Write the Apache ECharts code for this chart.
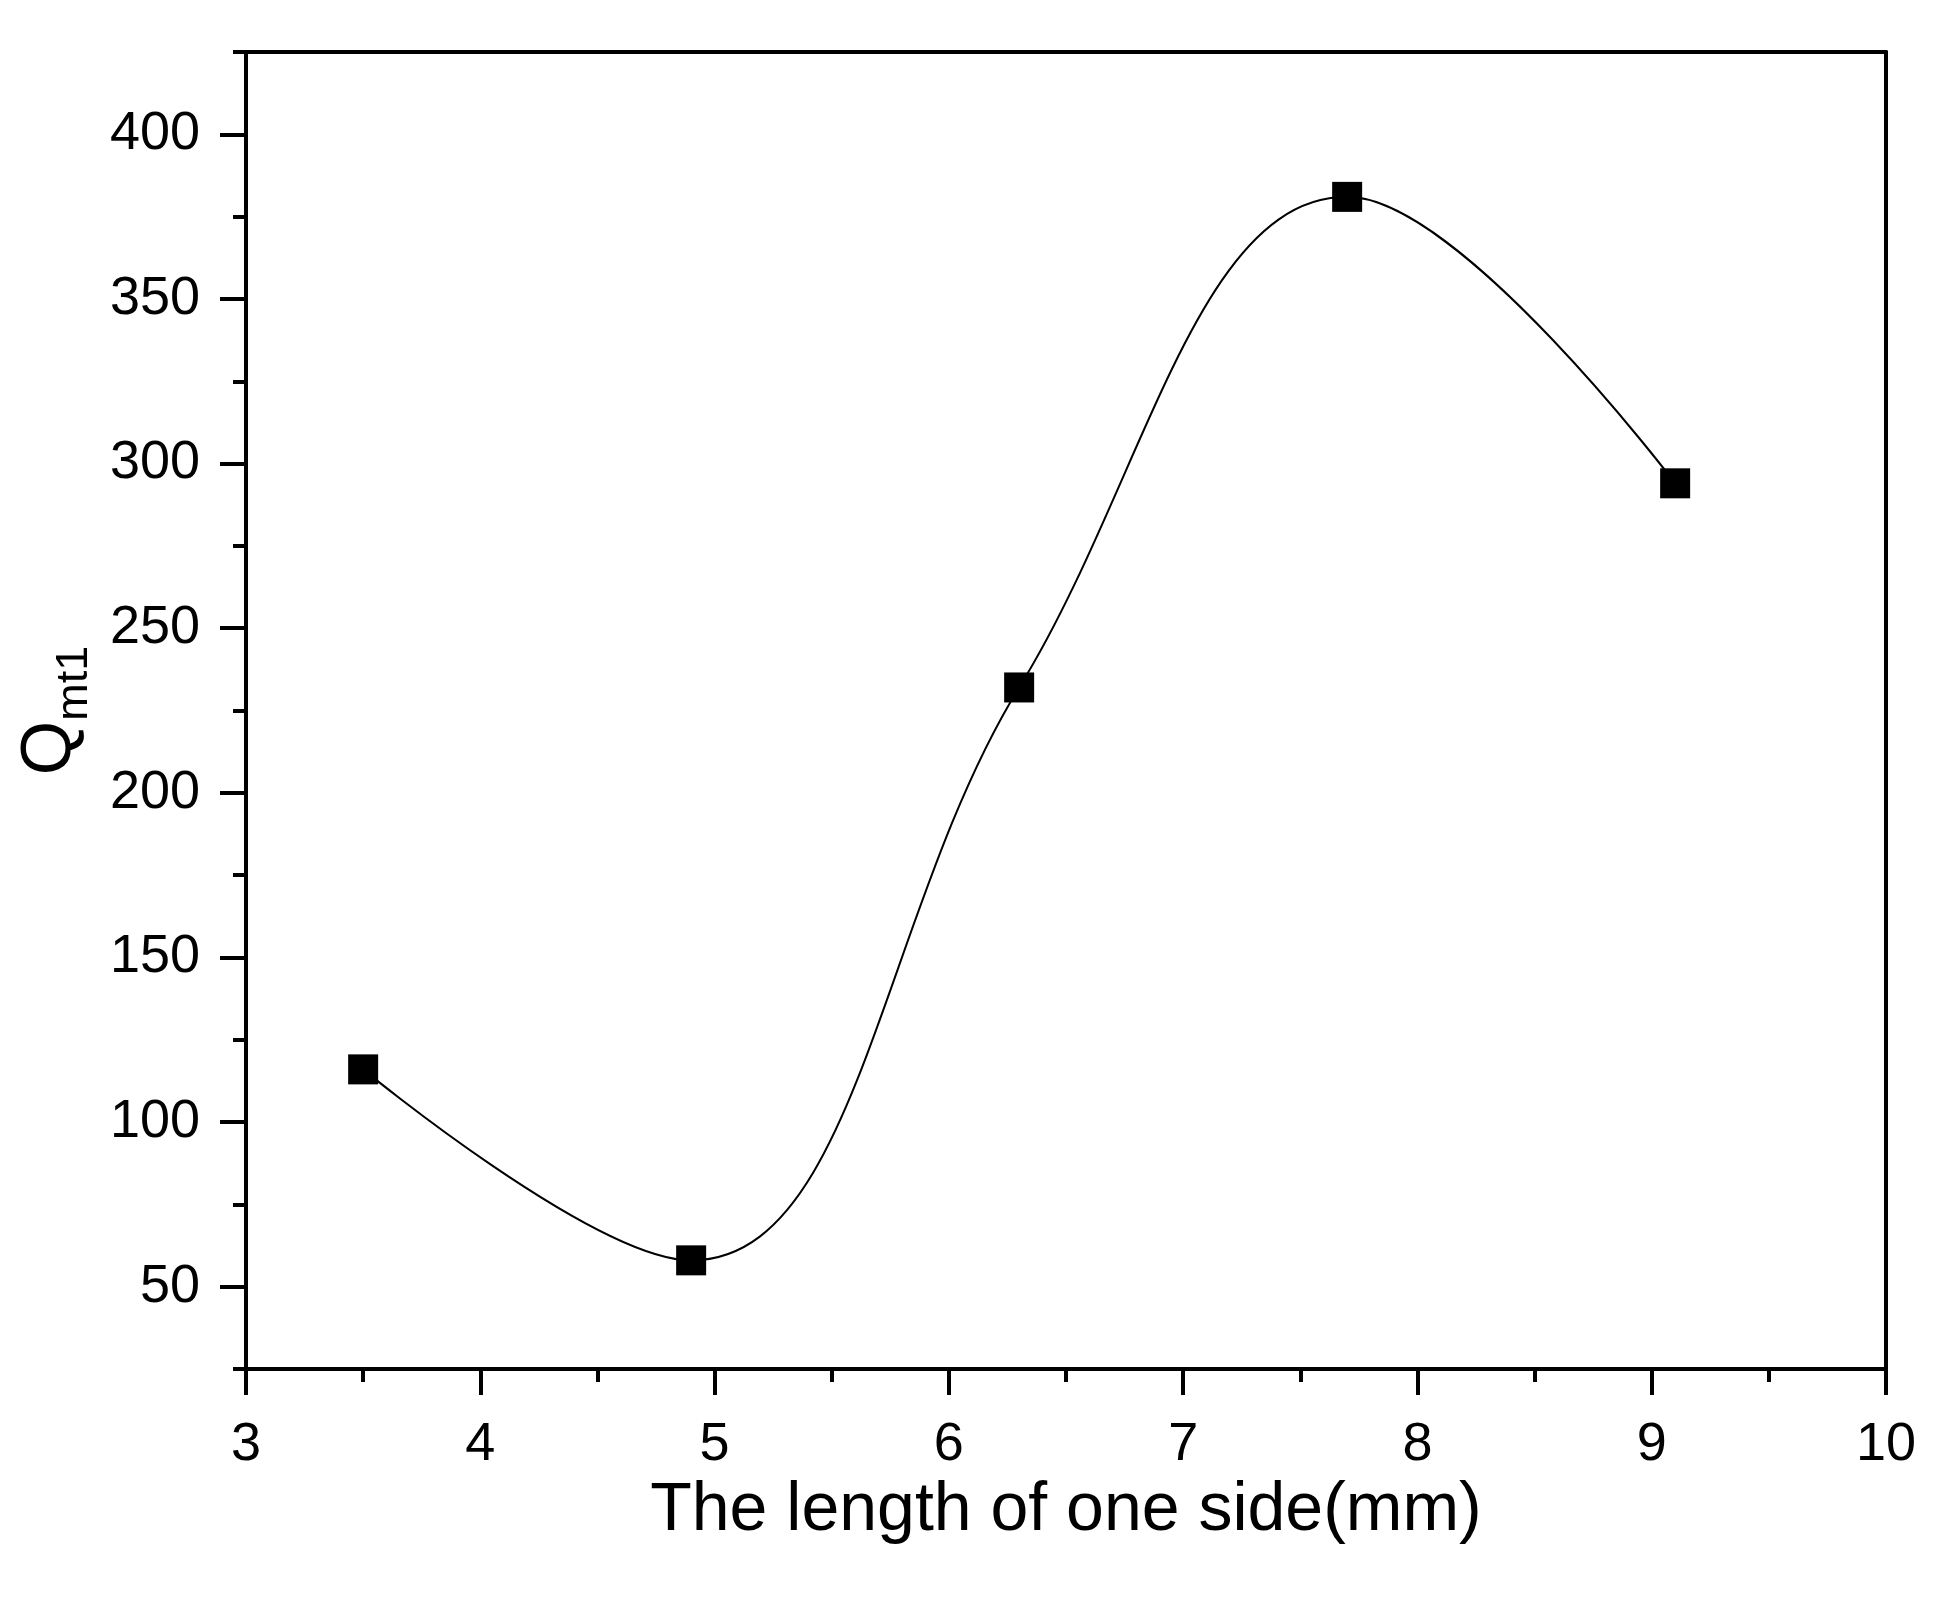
<!DOCTYPE html>
<html>
<head>
<meta charset="utf-8">
<title>Qmt1 vs side length</title>
<script src="https://cdn.jsdelivr.net/npm/echarts@6/dist/echarts.min.js"></script>
<style>
  html, body { margin: 0; padding: 0; background: #fff; }
  #mychart { width: 1934px; height: 1602px; }
</style>
</head>
<body>
<div id="mychart"></div>
<script>
  // data
  const sideLength = [3.5, 4.9, 6.3, 7.7, 9.1];
  const qmt1 = [116, 58, 232, 381, 294];

  // tick labels
  const xTicks = [3, 4, 5, 6, 7, 8, 9, 10];
  const yMajor = [50, 100, 150, 200, 250, 300, 350, 400];
  const yMinor = [25, 75, 125, 175, 225, 275, 325, 375, 425];

  const font = 'Liberation Sans, Arial, sans-serif';

  let myChart = echarts.init(document.getElementById('mychart'));

  let option = {
    backgroundColor: '#fff',
    animation: false,
    grid: {
      left: 246,
      right: 48,
      top: 52,
      bottom: 233
    },
    xAxis: [
      {
        type: 'value',
        min: xTicks[0],
        max: xTicks[xTicks.length - 1],
        interval: 1,
        name: 'The length of one side(mm)',
        nameLocation: 'middle',
        nameGap: 102,
        nameTextStyle: { fontFamily: font, fontSize: 68, color: '#000' },
        axisLine: { show: true, onZero: false, lineStyle: { color: '#000', width: 4 } },
        axisTick: { show: true, inside: false, length: 26, lineStyle: { color: '#000', width: 4 } },
        minorTick: { show: true, splitNumber: 2, length: 13, lineStyle: { color: '#000', width: 4 } },
        axisLabel: { fontFamily: font, fontSize: 54, color: '#000', margin: 49 },
        splitLine: { show: false }
      },
      {
        // top frame line
        type: 'value',
        position: 'top',
        min: xTicks[0],
        max: xTicks[xTicks.length - 1],
        axisLine: { show: true, onZero: false, lineStyle: { color: '#000', width: 4 } },
        axisTick: { show: false },
        axisLabel: { show: false },
        splitLine: { show: false }
      }
    ],
    yAxis: [
      {
        type: 'value',
        min: 25,
        max: 425,
        interval: 25,
        name: '{q|Q}{s|mt1}',
        nameLocation: 'middle',
        nameGap: 150,
        nameTextStyle: {
          fontFamily: font,
          color: '#000',
          rich: {
            q: { fontFamily: font, fontSize: 70, lineHeight: 80, color: '#000', verticalAlign: 'top' },
            s: { fontFamily: font, fontSize: 45, lineHeight: 45, color: '#000', verticalAlign: 'top', padding: [36, 0, 0, 0] }
          }
        },
        axisLine: { show: true, onZero: false, lineStyle: { color: '#000', width: 4 } },
        axisTick: { show: true, inside: false, length: 26, customValues: yMajor, lineStyle: { color: '#000', width: 4 } },
        axisLabel: { fontFamily: font, fontSize: 54, color: '#000', margin: 46, customValues: yMajor },
        splitLine: { show: false }
      },
      {
        // minor ticks on the left
        type: 'value',
        position: 'left',
        min: 25,
        max: 425,
        interval: 25,
        axisLine: { show: false },
        axisTick: { show: true, inside: false, length: 13, customValues: yMinor, lineStyle: { color: '#000', width: 4 } },
        axisLabel: { show: false },
        splitLine: { show: false }
      },
      {
        // right frame line
        type: 'value',
        position: 'right',
        min: 25,
        max: 425,
        axisLine: { show: true, onZero: false, lineStyle: { color: '#000', width: 4 } },
        axisTick: { show: false },
        axisLabel: { show: false },
        splitLine: { show: false }
      }
    ],
    series: [
      {
        type: 'line',
        data: sideLength.map((x, i) => [x, qmt1[i]]),
        smooth: 0.4,
        symbol: 'rect',
        symbolSize: 30,
        lineStyle: { color: '#000', width: 2 },
        itemStyle: { color: '#000' }
      }
    ]
  };

  myChart.setOption(option);
</script>
</body>
</html>
